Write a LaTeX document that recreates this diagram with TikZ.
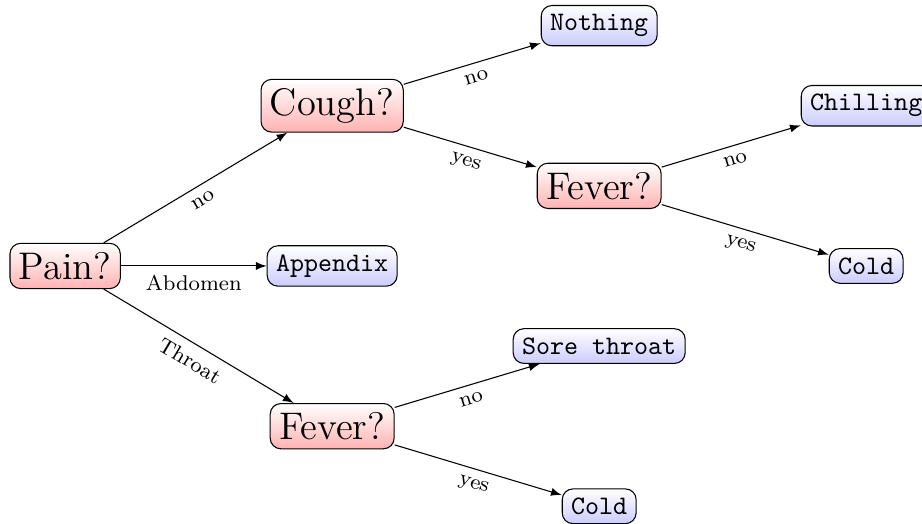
\documentclass[tikz,border=0pt]{standalone}
\usetikzlibrary{arrows}
\begin{document}
\tikzset{
  treenode/.style = {shape=rectangle, rounded corners, draw, align=center, top color=white, bottom color=blue!20},
  rootbox/.style = {treenode, font=\Large, bottom color=red!30},
  envbox/.style = {treenode, font=\ttfamily\normalsize},
  edgeline/.style = {draw, -latex},
  lbl/.style = {font=\footnotesize, sloped, midway, below}
}
\begin{tikzpicture}
  \useasboundingbox (-24.4pt,-96.3pt) rectangle (320.9pt,99.6pt);
  \node[rootbox] (pain) at (0pt,0pt) {Pain?};
  \node[rootbox] (cough) at (100pt,60pt) {Cough?};
  \node[envbox] (app) at (100pt,0pt) {Appendix};
  \node[rootbox] (fev2) at (100pt,-60pt) {Fever?};
  \node[envbox] (nothing) at (200pt,90pt) {Nothing};
  \node[rootbox] (fev1) at (200pt,30pt) {Fever?};
  \node[envbox] (chill) at (300pt,60pt) {Chilling};
  \node[envbox] (cold1) at (300pt,0pt) {Cold};
  \node[envbox] (sore) at (200pt,-30pt) {Sore throat};
  \node[envbox] (cold2) at (200pt,-90pt) {Cold};

  \draw[edgeline] (pain) -- (cough) node[lbl] {no};
  \draw[edgeline] (pain) -- (app) node[lbl] {Abdomen};
  \draw[edgeline] (pain) -- (fev2) node[lbl] {Throat};
  \draw[edgeline] (cough) -- (nothing) node[lbl] {no};
  \draw[edgeline] (cough) -- (fev1) node[lbl] {yes};
  \draw[edgeline] (fev1) -- (chill) node[lbl] {no};
  \draw[edgeline] (fev1) -- (cold1) node[lbl] {yes};
  \draw[edgeline] (fev2) -- (sore) node[lbl] {no};
  \draw[edgeline] (fev2) -- (cold2) node[lbl] {yes};
\end{tikzpicture}
\end{document}
